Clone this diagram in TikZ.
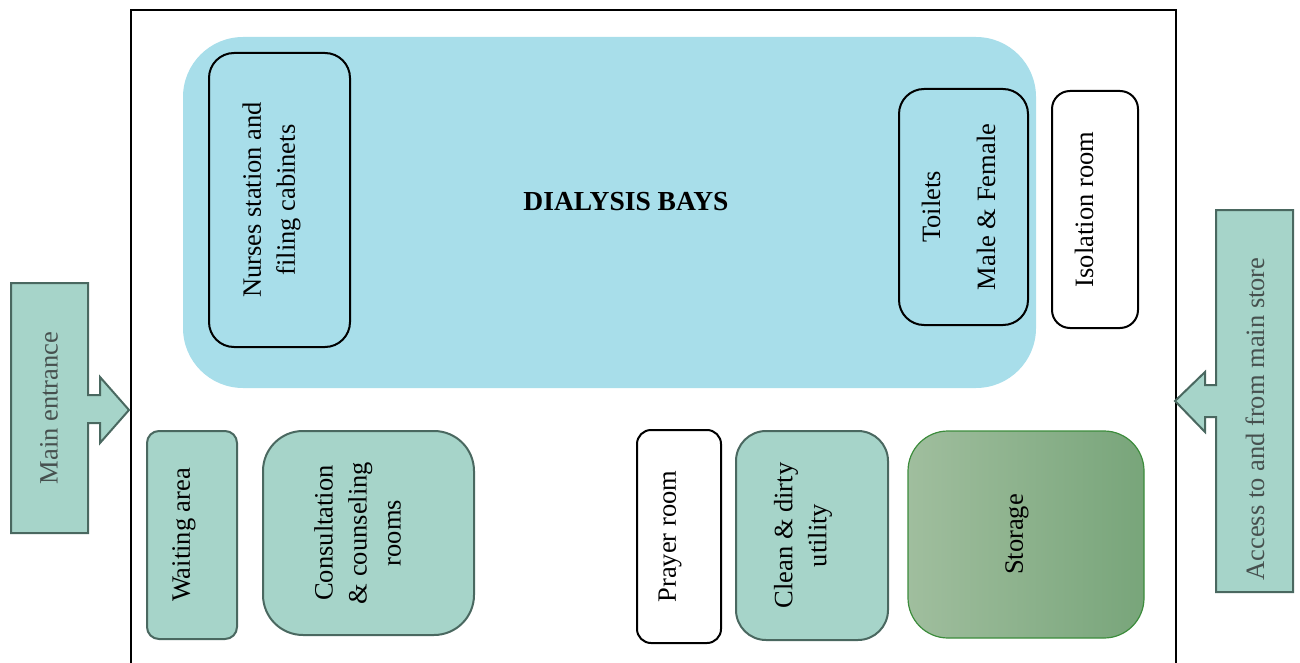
\documentclass[tikz,border=0pt]{standalone}
\usepackage{fontspec}
\setmainfont{Liberation Serif}
\definecolor{bay}{RGB}{168,222,234}
\definecolor{teal}{RGB}{166,212,201}
\definecolor{tealline}{RGB}{74,104,96}
\definecolor{arrowtext}{RGB}{70,80,78}
\definecolor{storeL}{RGB}{160,190,158}
\definecolor{storeR}{RGB}{120,165,122}
\definecolor{storeline}{RGB}{60,140,60}
\begin{document}
\begin{tikzpicture}[x=1pt,y=-1pt,
  font=\fontsize{26.5}{34}\selectfont,
  room/.style={rectangle,inner sep=0pt,line width=2pt},
  blackroom/.style={room,draw=black},
  tealroom/.style={room,draw=tealline,fill=teal},
  roomtext/.style={rotate=90,align=center,inner sep=0pt},
  arrowshape/.style={draw=tealline,fill=teal,line width=2pt,line join=miter},
  arrowlabel/.style={rotate=90,text=arrowtext,inner sep=0pt}
]
\useasboundingbox (0,0) rectangle (1300,663);

% building outline
\node[draw=black,line width=2pt,minimum width=1045pt,minimum height=680pt,inner sep=0pt,anchor=north west] (plan) at (130,9) {};

% dialysis bays
\node[room,fill=bay,rounded corners=60pt,minimum width=853pt,minimum height=351pt] (bays) at (609.5,212.5) {};
\node[font=\fontsize{27.5}{33}\selectfont\bfseries,inner sep=0pt] (baystext) at (626,202) {DIALYSIS BAYS};

\node[blackroom,fill=bay,rounded corners=25pt,minimum width=141pt,minimum height=294pt] (nurses) at (279.5,200) {};
\node[roomtext] (nursestext) at ([xshift=-8pt]nurses.center) {Nurses station and\\filing cabinets};

\node[blackroom,fill=bay,rounded corners=25pt,minimum width=129pt,minimum height=236pt] (toilets) at (963.5,207) {};
\node[roomtext] (toiletstext) at ([xshift=-5pt]toilets.center) {Toilets\\[21pt]Male \& Female};

\node[blackroom,fill=white,rounded corners=18pt,minimum width=86pt,minimum height=237pt] (isolation) at (1095,209.5) {};
\node[roomtext] (isolationtext) at ([xshift=-11pt]isolation.center) {Isolation room};

% lower rooms
\node[tealroom,rounded corners=12pt,minimum width=90pt,minimum height=208pt] (waiting) at (192,535) {};
\node[roomtext] (waitingtext) at ([xshift=-8pt]waiting.center) {Waiting area};

\node[tealroom,rounded corners=40pt,minimum width=211pt,minimum height=204pt] (consult) at (368.5,533) {};
\node[roomtext] (consulttext) at ([xshift=-11pt]consult.center) {Consultation\\\& counseling\\rooms};

\node[blackroom,fill=white,rounded corners=14pt,minimum width=84pt,minimum height=213pt] (prayer) at (679,536.5) {};
\node[roomtext] (prayertext) at ([xshift=-9pt]prayer.center) {Prayer room};

\node[tealroom,rounded corners=30pt,minimum width=152pt,minimum height=209pt] (utility) at (812,535.5) {};
\node[roomtext] (utilitytext) at ([xshift=-9pt]utility.center) {Clean \& dirty\\utility};

\node[room,draw=storeline,line width=1.2pt,left color=storeL,right color=storeR,rounded corners=40pt,minimum width=236pt,minimum height=207pt] (storage) at (1026,534.5) {};
\node[roomtext] (storagetext) at ([xshift=-9pt]storage.center) {Storage};

% main entrance arrow
\draw[arrowshape] (11,283) -- (88,283) -- (88,395) -- (100,395) -- (100,377) -- (129,410)
  -- (100,443) -- (100,423) -- (88,423) -- (88,533) -- (11,533) -- cycle;
\node[arrowlabel] (entrance) at (49,408) {Main entrance};

% access arrow
\draw[arrowshape] (1293,210) -- (1216,210) -- (1216,385) -- (1205,385) -- (1205,372) -- (1175,401)
  -- (1205,432) -- (1205,417) -- (1216,417) -- (1216,592) -- (1293,592) -- cycle;
\node[arrowlabel] (access) at (1255,419) {Access to and from main store};
\end{tikzpicture}
\end{document}
